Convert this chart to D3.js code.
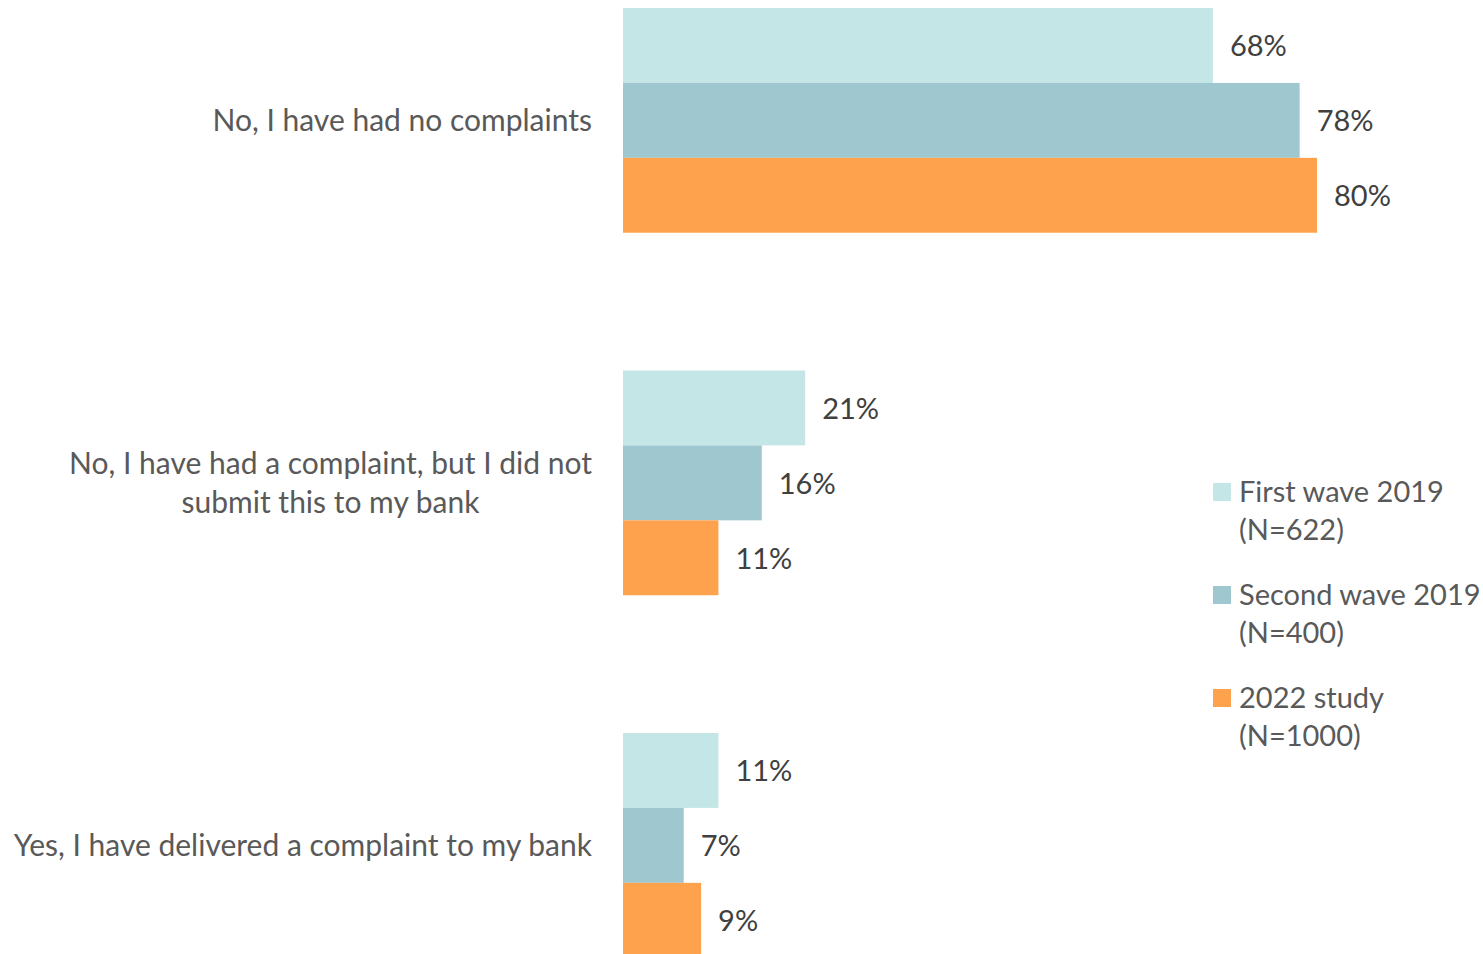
<!DOCTYPE html>
<html>
<head>
<meta charset="utf-8">
<script src="https://cdn.jsdelivr.net/npm/d3@7"></script>
<style>
  html, body { margin: 0; padding: 0; background: #fff; }
  svg { display: block; font-family: Lato, "Open Sans", sans-serif; }
</style>
</head>
<body>
<svg id="chart" width="1483" height="954"></svg>
<script>
// Survey answers (wrapped lines per label)
const categories = [
  ["No, I have had no complaints"],
  ["No, I have had a complaint, but I did not", "submit this to my bank"],
  ["Yes, I have delivered a complaint to my bank"]
];
const seriesNames = ["First wave 2019", "Second wave 2019", "2022 study"];
const seriesSamples = ["(N=622)", "(N=400)", "(N=1000)"];
const seriesColors = ["#c5e6e6", "#9ec7d0", "#ffa24e"];
// Percentages per category, one array per series
const firstWave2019 = [68, 21, 11];
const secondWave2019 = [78, 16, 7];
const study2022 = [80, 11, 9];

const values = [firstWave2019, secondWave2019, study2022];
const catKeys = categories.map(c => c.join(" "));

const svg = d3.select("#chart");
const labelSize = 30;
const textSize = 29;

const x = d3.scaleLinear().domain([0, 80]).range([623, 1317]);
const y = d3.scaleBand().domain(catKeys).range([8, 957.75]).paddingInner(0.38).paddingOuter(0);
const ySub = d3.scaleBand().domain(seriesNames).range([0, y.bandwidth()]).padding(0);

const rows = catKeys.flatMap((k, ci) => seriesNames.map((s, si) => ({ cat: k, series: s, si, value: values[si][ci] })));

const bars = svg.append("g");
bars.selectAll("rect")
  .data(rows)
  .join("rect")
  .attr("x", x(0))
  .attr("y", d => y(d.cat) + ySub(d.series))
  .attr("width", d => x(d.value) - x(0))
  .attr("height", ySub.bandwidth())
  .attr("fill", d => seriesColors[d.si]);

// Value labels at bar ends
svg.append("g").selectAll("text")
  .data(rows)
  .join("text")
  .attr("x", d => x(d.value) + 17)
  .attr("y", d => y(d.cat) + ySub(d.series) + ySub.bandwidth() / 2)
  .attr("dy", "0.38em")
  .attr("font-size", textSize)
  .attr("fill", "#404040")
  .text(d => d.value + "%");

// Category labels: right-aligned block, lines centered within the block
const labelRight = 592;
const lineH = 39;
categories.forEach((lines, ci) => {
  const g = svg.append("g");
  const cy = y(catKeys[ci]) + y.bandwidth() / 2;
  const texts = lines.map((ln, li) => g.append("text")
    .attr("font-size", labelSize)
    .attr("fill", "#595959")
    .attr("text-anchor", "middle")
    .attr("y", cy + (li - (lines.length - 1) / 2) * lineH)
    .attr("dy", "0.36em")
    .text(ln));
  const w = d3.max(texts, t => t.node().getComputedTextLength());
  texts.forEach(t => t.attr("x", labelRight - w / 2));
});

// Legend
const legend = svg.append("g").attr("transform", "translate(1213,0)");
seriesNames.forEach((name, i) => {
  const top = 483 + i * 103;
  legend.append("rect").attr("x", 0).attr("y", top).attr("width", 18).attr("height", 18).attr("fill", seriesColors[i]);
  legend.append("text").attr("x", 26).attr("y", top + 19).attr("font-size", textSize).attr("fill", "#595959").text(name);
  legend.append("text").attr("x", 26).attr("y", top + 57).attr("font-size", textSize).attr("fill", "#595959").text(seriesSamples[i]);
});
</script>
</body>
</html>
